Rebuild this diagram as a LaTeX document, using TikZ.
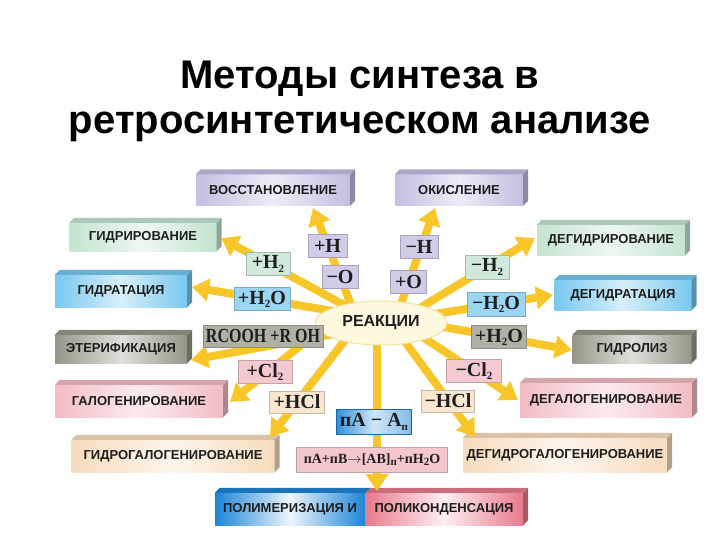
\documentclass[tikz,border=0pt]{standalone}
\usepackage{fontspec}
\setmainfont{Liberation Sans}
\newfontfamily\labfont{Liberation Serif}
\usetikzlibrary{arrows.meta,calc,shapes.geometric}

\definecolor{raycol}{RGB}{249,198,42}
\definecolor{txt}{RGB}{30,30,30}
\definecolor{lav}{RGB}{197,190,226}
\definecolor{grn}{RGB}{196,228,208}
\definecolor{blu}{RGB}{120,200,238}
\definecolor{gry}{RGB}{150,150,136}
\definecolor{pnk}{RGB}{242,188,196}
\definecolor{pch}{RGB}{247,220,190}
\definecolor{ellfill}{RGB}{253,249,222}
\definecolor{elldraw}{RGB}{238,226,160}
\definecolor{polblu}{RGB}{28,132,214}
\definecolor{polpnk}{RGB}{232,122,140}

\newcommand\sub[1]{\raisebox{-0.35ex}{\fontsize{11}{11}\selectfont #1}}
\newcommand\faces[2]{%
  \fill[#2!88!black] (#1.north west) -- ++(5,-5) -- ($(#1.north east)+(5,-5)$) -- (#1.north east) -- cycle;
  \fill[#2!72!black] (#1.north east) -- ++(5,-5) -- ($(#1.south east)+(5,-5)$) -- (#1.south east) -- cycle;
}

\tikzset{
  slab/.style={rectangle, inner sep=0pt, text=txt,
    font=\bfseries\fontsize{13}{15}\selectfont,
    left color=#1, right color=#1, middle color=#1!30!white},
  lab/.style={rectangle, inner sep=0pt, minimum height=23pt, text=txt,
    font=\labfont\bfseries\fontsize{20}{20}\selectfont,
    fill=#1, draw=#1!80!black, line width=0.4pt},
  ray/.style={draw=raycol, line width=8pt, -{Triangle[length=17pt,width=22pt]}},
  ttl/.style={anchor=base, font=\bfseries\fontsize{40}{44}\selectfont}
}

\begin{document}
\begin{tikzpicture}[x=1pt,y=-1pt]
\useasboundingbox (0,0) rectangle (720,540);
\fill[white] (0,0) rectangle (720,540);

% title
\node[ttl] (t1) at (360,89) {Методы синтеза в};
\node[ttl] (t2) at (360,134) {ретросинтетическом анализе};

% slabs
\node[slab=lav, minimum width=154, minimum height=31] (vos) at (273,190) {ВОССТАНОВЛЕНИЕ};
\node[slab=lav, minimum width=128, minimum height=31] (oki) at (459,190) {ОКИСЛЕНИЕ};
\node[slab=grn, minimum width=147, minimum height=28] (gidr) at (143,237) {ГИДРИРОВАНИЕ};
\node[slab=blu, minimum width=132, minimum height=32] (gidrat) at (121,291) {ГИДРАТАЦИЯ};
\node[slab=gry, minimum width=132, minimum height=28] (eter) at (121,349) {ЭТЕРИФИКАЦИЯ};
\node[slab=pnk, minimum width=168, minimum height=32] (gal) at (139,401) {ГАЛОГЕНИРОВАНИЕ};
\node[slab=pch, minimum width=203, minimum height=32] (ggal) at (173,456) {ГИДРОГАЛОГЕНИРОВАНИЕ};
\node[slab=grn, minimum width=148, minimum height=30] (degidr) at (611,240) {ДЕГИДРИРОВАНИЕ};
\node[slab=blu, minimum width=137, minimum height=30] (degidrat) at (623,295) {ДЕГИДРАТАЦИЯ};
\node[slab=gry, minimum width=119, minimum height=28] (hydrol) at (632,349) {ГИДРОЛИЗ};
\node[slab=pnk, minimum width=172, minimum height=34] (degal) at (606,400) {ДЕГАЛОГЕНИРОВАНИЕ};
\node[slab=pch, minimum width=204, minimum height=34] (dgg) at (565,455) {ДЕГИДРОГАЛОГЕНИРОВАНИЕ};
\node[slab=polblu, middle color=polblu!8!white, minimum width=150, minimum height=32] (polL) at (290,509) {ПОЛИМЕРИЗАЦИЯ И};
\node[slab=polpnk, middle color=polpnk!12!white, minimum width=158, minimum height=32] (polR) at (444,509) {ПОЛИКОНДЕНСАЦИЯ};

\faces{vos}{lav}
\faces{oki}{lav}
\faces{gidr}{grn}
\faces{gidrat}{blu}
\faces{eter}{gry}
\faces{gal}{pnk}
\faces{ggal}{pch}
\faces{degidr}{grn}
\faces{degidrat}{blu}
\faces{hydrol}{gry}
\faces{degal}{pnk}
\faces{dgg}{pch}
\faces{polR}{polpnk}
\fill[polblu!88!black] (polL.north west) -- ++(5,-5) -- ($(polL.north east)+(5,-5)$) -- (polL.north east) -- cycle;

% ray end points
\coordinate (s1) at (355,315);  \coordinate (e1) at (313,208);
\coordinate (s2) at (397,315);  \coordinate (e2) at (435,208);
\coordinate (s3) at (355,311);  \coordinate (e3) at (221,238);
\coordinate (s4) at (350,314);  \coordinate (e4) at (192,287);
\coordinate (s5) at (340,333);  \coordinate (e5) at (191,360);
\coordinate (s6) at (335,318);  \coordinate (e6) at (230,402);
\coordinate (s7) at (349,335);  \coordinate (e7) at (270,437);
\coordinate (s8) at (377,323);  \coordinate (e8) at (377,491);
\coordinate (s9) at (400,335);  \coordinate (e9) at (475,437);
\coordinate (s10) at (415,332); \coordinate (e10) at (518,400);
\coordinate (s11) at (410,321); \coordinate (e11) at (572,350);
\coordinate (s12) at (410,318); \coordinate (e12) at (553,295);
\coordinate (s13) at (410,314); \coordinate (e13) at (535,238);

\foreach \i in {1,...,13} { \draw[ray] (s\i) -- (e\i); }

% centre
\node[ellipse, minimum width=132, minimum height=44, inner sep=0pt,
      fill=ellfill, draw=elldraw, line width=1pt, text=txt,
      font=\bfseries\fontsize{16}{18}\selectfont] (R) at (381,323) {РЕАКЦИИ};

% labels
\node[lab=lav!80!white, minimum width=39] (lH) at (327.5,246) {+H};
\node[lab=lav!80!white, minimum width=36] (lO) at (340,277) {−O};
\node[lab=lav!80!white, minimum width=38] (rH) at (419,246.5) {−H};
\node[lab=lav!80!white, minimum width=36] (rO) at (408.5,282) {+O};
\node[lab=grn!80!white, minimum width=44] (lH2) at (268,264) {+H\sub{2}};
\node[lab=blu!75!white, minimum width=56] (lH2O) at (262,299) {+H\sub{2}O};
\node[lab=gry!75!white, minimum width=120, minimum height=22] (rcooh) at (263,336) {\scalebox{0.8}[1]{RCOOH +R OH}};
\node[lab=pnk!80!white, minimum width=54] (lCl) at (265,372) {+Cl\sub{2}};
\node[lab=pch!70!white, minimum width=55, minimum height=22] (lHCl) at (297,402) {+HCl};
\node[lab=grn!80!white, minimum width=44, minimum height=24] (rH2) at (487,267) {−H\sub{2}};
\node[lab=blu!75!white, minimum width=58, minimum height=24] (rH2O) at (496,304) {−H\sub{2}O};
\node[lab=gry!75!white, minimum width=55] (rH2Ob) at (499,337) {+H\sub{2}O};
\node[lab=pnk!80!white, minimum width=55] (rCl) at (474,371) {−Cl\sub{2}};
\node[lab=pch!70!white, minimum width=53, minimum height=22] (rHCl) at (448,401) {−HCl};
\node[lab=polblu, left color=polblu!90!white, right color=polblu!55!white, middle color=polblu!20!white,
      minimum width=75, minimum height=25] (nA) at (374,422) {пA − A\sub{п}};
\node[lab=pnk!85!white, minimum width=151, minimum height=25,
      font=\labfont\bfseries\fontsize{14}{14}\selectfont] (nAB) at (372,460)
      {пA+пB$\rightarrow$[AB]\sub{п}+пH\sub{2}O};
\end{tikzpicture}
\end{document}
